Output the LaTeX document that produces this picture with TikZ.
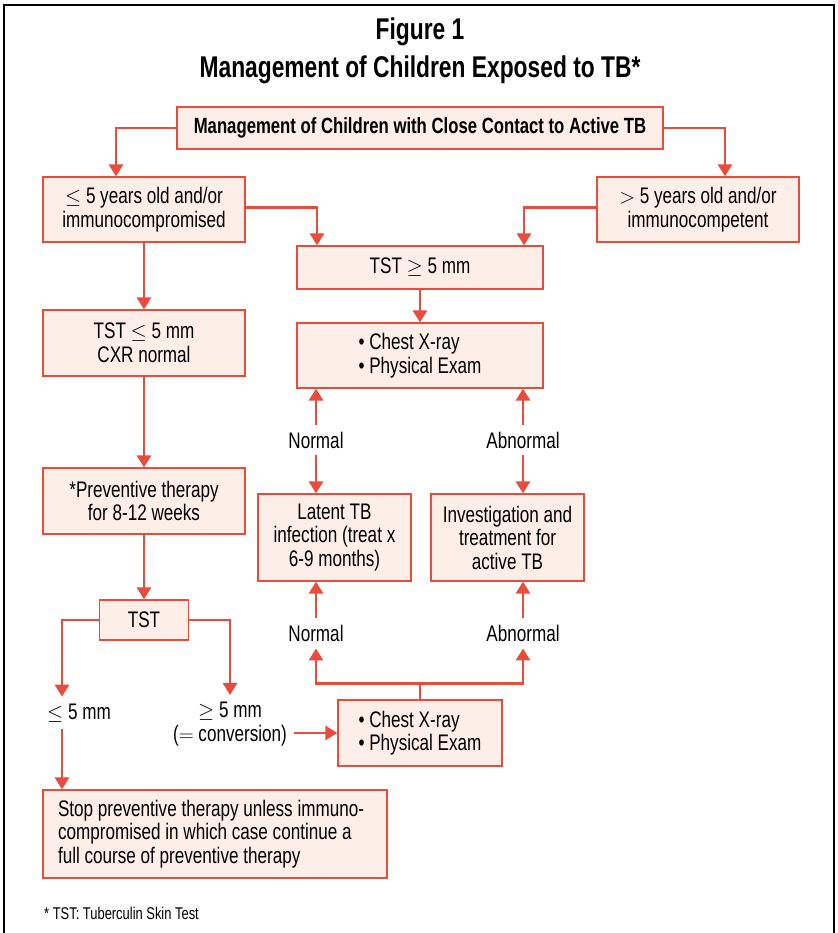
\documentclass[tikz,border=0pt]{standalone}
\usepackage{fontspec}
\setmainfont[FakeStretch=0.76]{Liberation Sans}
\usetikzlibrary{arrows.meta}
\begin{document}
\begin{tikzpicture}[x=1pt, y=-1pt,
  box/.style={draw=TBred, line width=1.2pt, fill=TBfill, inner sep=0pt, align=center, font=\fontsize{22.5}{23.5}\selectfont},
  lab/.style={inner sep=7pt, align=center, font=\fontsize{22.5}{23.5}\selectfont},
  arr/.style={TBred, line width=2.8pt, -{Triangle[width=14pt,length=12pt]}},
  con/.style={TBred, line width=2.8pt}]
\definecolor{TBred}{RGB}{231, 76, 60}
\definecolor{TBfill}{RGB}{253, 238, 232}
\useasboundingbox (0,0) rectangle (837,933);
% frame
\draw[line width=2.5pt] (4,940) -- (4,5) -- (834,5) -- (834,940);
% title
\node (fig) at (420,32) {\fontsize{30}{32}\selectfont\bfseries Figure 1};
\node (ttl) at (420,70) {\fontsize{30}{32}\selectfont\bfseries Management of Children Exposed to TB*};
% boxes
\node[box, minimum width=486, minimum height=42, font=\fontsize{22}{24}\selectfont\bfseries] (top) at (420,128) {Management of Children with Close Contact to Active TB};
\node[box, minimum width=202, minimum height=65] (l1) at (144,209.5) {$\leq$ 5 years old and/or\\immunocompromised};
\node[box, minimum width=202, minimum height=65] (r1) at (698,209.5) {$>$ 5 years old and/or\\immunocompetent};
\node[box, minimum width=246, minimum height=43] (tst5) at (420,267.5) {TST $\geq$ 5 mm};
\node[box, minimum width=246, minimum height=65, align=left] (cxr1) at (420,355.5) {\textbullet\ Chest X-ray\\\textbullet\ Physical Exam};
\node[lab] (nrm1) at (316,440) {Normal};
\node[lab] (abn1) at (523,440) {Abnormal};
\node[box, minimum width=153, minimum height=87] (lat) at (334.5,537.5) {Latent TB\\infection (treat x\\6-9 months)};
\node[box, minimum width=153, minimum height=87] (inv) at (507.5,537.5) {Investigation and\\treatment for\\active TB};
\node[lab] (nrm2) at (316,633) {Normal};
\node[lab] (abn2) at (523,633) {Abnormal};
\node[box, minimum width=164, minimum height=66, align=left] (cxr2) at (420,733) {\textbullet\ Chest X-ray\\\textbullet\ Physical Exam};
\node[box, minimum width=202, minimum height=66] (l2) at (144,343) {TST $\leq$ 5 mm\\CXR normal};
\node[box, minimum width=202, minimum height=66] (l3) at (144,501) {*Preventive therapy\\for 8-12 weeks};
\node[box, minimum width=89, minimum height=40] (tst) at (144,620) {TST};
\node[lab] (le5) at (79,713) {$\leq$ 5 mm};
\node[lab] (ge5) at (230,724) {$\geq$ 5 mm\\($=$ conversion)};
\node[box, minimum width=344, minimum height=88, text width=314, align=flush left] (stop) at (215,834) {Stop preventive therapy unless immuno-\\compromised in which case continue a\\full course of preventive therapy};
\node[anchor=west, inner sep=0pt, font=\fontsize{17}{19}\selectfont] (note) at (44,913) {* TST: Tuberculin Skin Test};
% connectors
\coordinate (fork) at ([yshift=16]cxr2.north);
\draw[arr] (top.west) -| ([xshift=-28]l1.north);
\draw[arr] (top.east) -| ([xshift=27]r1.north);
\draw[arr] ([yshift=2]l1.east) -| ([xshift=-103]tst5.north);
\draw[arr] ([yshift=2]r1.west) -| ([xshift=104]tst5.north);
\draw[arr] (tst5) -- (cxr1);
\foreach \n/\b in {nrm1/lat, abn1/inv}{
\draw[arr] (\n.north) -- (\n.north |- cxr1.south);
\draw[arr] (\n.south) -- (\n.south |- \b.north);
}
\draw[arr] (nrm2.north) -- (nrm2.north |- lat.south);
\draw[arr] (abn2.north) -- (abn2.north |- inv.south);
\draw[con] (cxr2.north) -- (fork);
\draw[arr] (fork) -| (nrm2.south);
\draw[arr] (fork) -| (abn2.south);
\draw[arr] (l1) -- (l2);
\draw[arr] (l2) -- (l3);
\draw[arr] (l3) -- (tst);
\draw[arr] (tst.west) -| ([xshift=-17]le5.north);
\draw[arr] (tst.east) -| (ge5.north);
\draw[arr] ([xshift=-17]le5.south) -- ([xshift=-17]le5.south |- stop.north);
\draw[arr] (ge5.east |- cxr2.west) -- (cxr2.west);
\end{tikzpicture}
\end{document}
